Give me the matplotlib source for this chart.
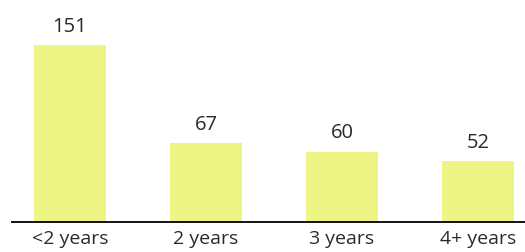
import matplotlib.pyplot as plt

categories = ["<2 years", "2 years", "3 years", "4+ years"]
values = [151, 67, 60, 52]

plt.rcParams["font.family"] = ["Open Sans", "DejaVu Sans"]

fig = plt.figure(figsize=(5.25, 2.52), dpi=100)
ax = fig.add_axes([12 / 525, 30 / 252, 513 / 525, 222 / 252])

pos = range(len(values))
bars = ax.bar(pos, values, width=0.53, color="#eff585")

for x, v in zip(pos, values):
    ax.annotate(str(v), (x, v), xytext=(0, 6), textcoords="offset points",
                ha="center", va="bottom", fontsize=14.5, color="#2a2a2a")

ax.set_xlim(-0.426, 3.346)
ax.set_ylim(0, 189.4)
ax.set_xticks(list(pos))
ax.set_xticklabels(categories, fontsize=14, color="#2a2a2a")
ax.tick_params(axis="x", length=0, pad=6)
ax.set_yticks([])
for s in ["top", "right", "left"]:
    ax.spines[s].set_visible(False)
ax.spines["bottom"].set_linewidth(1.4)
ax.spines["bottom"].set_color("#111111")

fig.savefig("out.png", dpi=100)
